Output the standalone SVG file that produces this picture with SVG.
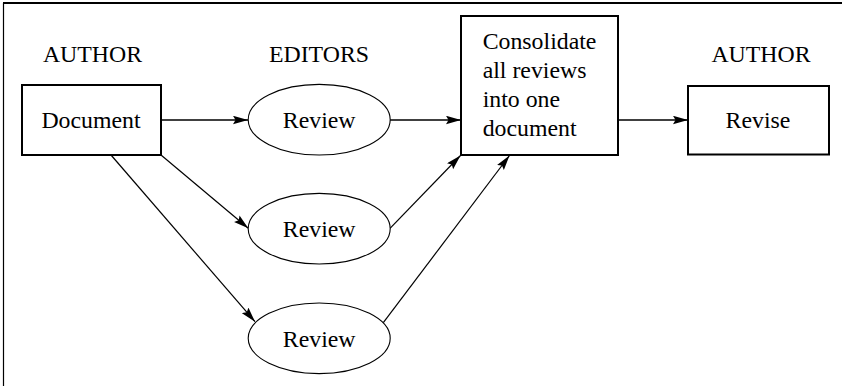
<svg xmlns="http://www.w3.org/2000/svg" width="842" height="386" viewBox="0 0 842 386">
<style>
text{font-family:'Liberation Serif','Times New Roman',Times,'DejaVu Serif',serif;font-size:23.8px;fill:#000}
.box{fill:#fff;stroke:#000;stroke-width:2}
.ell{fill:#fff;stroke:#000;stroke-width:1.1}
.c{fill:none;stroke:#000;stroke-width:1.2}
.h{stroke-width:1.6}
</style>
<defs>
<marker id="ah" markerUnits="userSpaceOnUse" markerWidth="15" markerHeight="9" refX="15" refY="4.25" orient="auto">
<path d="M0,0 L15,4.25 L0,8.5 L2.5,4.25 z" fill="#000"/>
</marker>
</defs>
<g id="frame">
<line x1="3.5" y1="3" x2="3.5" y2="386" stroke="#000" stroke-width="1.2"/>
<line x1="3" y1="3" x2="842" y2="3" stroke="#000" stroke-width="2.2"/>
</g>
<g id="labels" font-family="Liberation Serif, serif">
<text x="92.5" y="61.7" text-anchor="middle">AUTHOR</text>
<text x="319" y="61.7" text-anchor="middle">EDITORS</text>
<text x="761" y="61.7" text-anchor="middle">AUTHOR</text>
</g>
<g id="connectors">
<line class="c h" x1="161" y1="120" x2="248" y2="120" marker-end="url(#ah)"/>
<line class="c" x1="161" y1="155" x2="248.3" y2="228.3" marker-end="url(#ah)"/>
<line class="c" x1="111" y1="155" x2="255" y2="321.7" marker-end="url(#ah)"/>
<line class="c h" x1="390" y1="120" x2="461" y2="120" marker-end="url(#ah)"/>
<line class="c" x1="390" y1="228.3" x2="460.5" y2="155.5" marker-end="url(#ah)"/>
<line class="c" x1="383.3" y1="322.7" x2="509.5" y2="155.5" marker-end="url(#ah)"/>
<line class="c h" x1="618" y1="120" x2="688" y2="120" marker-end="url(#ah)"/>
</g>
<g id="document">
<rect class="box" x="22" y="85" width="139" height="70"/>
<text x="91" y="128.3" text-anchor="middle">Document</text>
</g>
<g id="review1">
<ellipse class="ell" cx="319.2" cy="119.7" rx="71" ry="35.3"/>
<text x="319.2" y="128.3" text-anchor="middle">Review</text>
</g>
<g id="review2">
<ellipse class="ell" cx="319.2" cy="228.7" rx="71" ry="35.3"/>
<text x="319.2" y="237.3" text-anchor="middle">Review</text>
</g>
<g id="review3">
<ellipse class="ell" cx="319.2" cy="338.3" rx="71" ry="35.3"/>
<text x="319.2" y="346.9" text-anchor="middle">Review</text>
</g>
<g id="consolidate">
<rect class="box" x="461" y="16" width="157" height="139"/>
<text x="482.7" y="49">Consolidate</text>
<text x="482.7" y="78">all reviews</text>
<text x="482.7" y="107">into one</text>
<text x="482.7" y="135.8">document</text>
</g>
<g id="revise">
<rect class="box" x="688" y="86" width="141" height="68.5"/>
<text x="758" y="128.3" text-anchor="middle">Revise</text>
</g>
</svg>
